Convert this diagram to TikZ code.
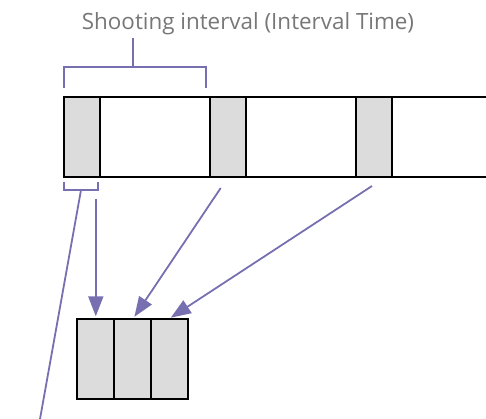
\documentclass[tikz,border=0pt]{standalone}
\usepackage{fontspec}
\setmainfont{Open Sans}
\usetikzlibrary{arrows.meta}
\definecolor{vio}{HTML}{7670B0}
\definecolor{fr}{HTML}{DCDCDC}
\definecolor{txt}{HTML}{777777}
\tikzset{
  frame/.style={draw=black, fill=fr, line width=2pt, minimum width=36pt, minimum height=80pt, inner sep=0pt, outer sep=0pt},
  cell/.style={draw=black, fill=fr, line width=2pt, minimum width=36.7pt, minimum height=80pt, inner sep=0pt, outer sep=0pt},
  brk/.style={draw=vio, line width=1.8pt},
  arr/.style={draw=vio, line width=1.8pt, -{Triangle[length=20pt,width=15pt]}, shorten >=3pt},
  lbl/.style={text=txt, font=\fontsize{22.4pt}{26pt}\selectfont, inner sep=0pt}
}
\begin{document}
\begin{tikzpicture}[x=1pt,y=-1pt]
\useasboundingbox (0,0) rectangle (486,419);
% strip
\draw[line width=2pt] (486,97) -- (64,97) -- (64,177) -- (486,177);
\node[frame] (f1) at (82,137) {};
\node[frame] (f2) at (228,137) {};
\node[frame] (f3) at (374,137) {};
% label and top bracket
\node[lbl] (title) at (248,24) {Shooting interval (Interval Time)};
\coordinate (tb) at (133,38);
\draw[brk] (64,88) -- (64,66.7) -- (206,66.7) -- (206,88);
\draw[brk] (133,66.7) -- (tb);
% small bracket
\draw[brk] (64,181.7) -- (64,190) -- (98,190) -- (98,181.7);
\coordinate (sb) at (81,190);
\coordinate (send) at (40,419);
\draw[brk] (sb) -- (send);
% bottom cells
\node[cell] (c1) at (95.8,359.3) {};
\node[cell] (c2) at (132.5,359.3) {};
\node[cell] (c3) at (169.2,359.3) {};
% arrows
\coordinate (a1) at (95.8,199);
\coordinate (a2) at (220.7,188);
\coordinate (a3) at (372,186);
\draw[arr] (a1) -- (c1.north);
\draw[arr] (a2) -- (132.7,319.3);
\draw[arr] (a3) -- (168.3,319.3);
\end{tikzpicture}
\end{document}
